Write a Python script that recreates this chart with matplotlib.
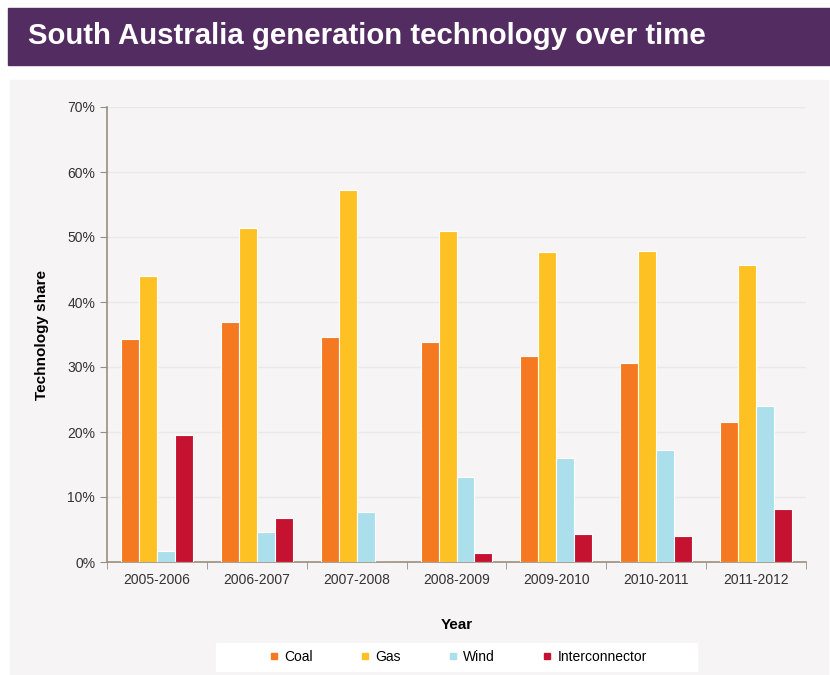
import matplotlib

matplotlib.use("Agg")
import matplotlib.pyplot as plt  # noqa: E402
import numpy as np  # noqa: E402
from matplotlib.patches import Rectangle  # noqa: E402
from matplotlib.lines import Line2D  # noqa: E402

plt.rcParams["font.family"] = ["Liberation Sans", "DejaVu Sans"]

years = ["2005-2006", "2006-2007", "2007-2008", "2008-2009",
         "2009-2010", "2010-2011", "2011-2012"]
coal = [34.3, 36.9, 34.6, 33.8, 31.7, 30.6, 21.5]
gas = [44.0, 51.4, 57.2, 50.9, 47.7, 47.8, 45.7]
wind = [1.7, 4.6, 7.7, 13.1, 16.0, 17.2, 24.0]
interconnector = [19.5, 6.8, 0.0, 1.4, 4.3, 4.0, 8.2]

series = [("Coal", coal, "#f47920"), ("Gas", gas, "#fec124"),
          ("Wind", wind, "#abdfec"), ("Interconnector", interconnector, "#c41230")]

fig = plt.figure(figsize=(8.3, 6.75), dpi=100)
fig.patch.set_facecolor("white")

# title banner, chart panel, legend box
fig.patches.append(Rectangle((8 / 830, 1 - 65 / 675), 1, 57 / 675,
                             transform=fig.transFigure, color="#532d62", zorder=-2))
fig.patches.append(Rectangle((10 / 830, 0), 818 / 830, 1 - 80 / 675,
                             transform=fig.transFigure, color="#f6f4f5", zorder=-2))
fig.patches.append(Rectangle((216 / 830, 4 / 675), 481 / 830, 28 / 675,
                             transform=fig.transFigure, color="white", zorder=-1))
fig.text(28 / 830, 1 - 36 / 675, "South Australia generation technology over time",
         color="white", fontsize=21.2, fontweight="bold", va="center", ha="left")

ax = fig.add_axes([107 / 830, 113 / 675, 699 / 830, 455 / 675])
ax.set_facecolor("#f6f4f5")

x = np.arange(len(years))
w = 0.18
for i, (name, vals, col) in enumerate(series):
    ax.bar(x + (i - 1.5) * w, vals, width=w, color=col, edgecolor="white",
           linewidth=0.8, zorder=3)

ax.set_xlim(-0.5, len(years) - 0.5)
ax.set_ylim(0, 70)
ax.set_yticks(range(0, 71, 10))
ax.set_yticklabels([f"{v}%" for v in range(0, 71, 10)])
ax.set_xticks(x)
ax.set_xticklabels(years)
ax.set_xticks(np.arange(-0.5, len(years)), minor=True)
ax.tick_params(axis="x", which="major", length=0, pad=8, labelsize=10, labelcolor="#333333")
ax.tick_params(axis="x", which="minor", length=5, color="#9a8f7e")
ax.tick_params(axis="y", length=5, color="#9a8f7e", labelsize=10, labelcolor="#333333")
ax.grid(axis="y", color="#ebe8e8", lw=1, zorder=0)
for s in ["top", "right"]:
    ax.spines[s].set_visible(False)
for s in ["left", "bottom"]:
    ax.spines[s].set_color("#9a8f7e")
    ax.spines[s].set_linewidth(1.2)

ax.set_ylabel("Technology share", fontsize=11, fontweight="bold", labelpad=13)
ax.set_xlabel("Year", fontsize=11, fontweight="bold", labelpad=22)

handles = [Line2D([], [], marker="s", ls="", color=c, markersize=5) for _, _, c in series]
fig.legend(handles, [s[0] for s in series], loc="center",
           bbox_to_anchor=(458 / 830, 1 - 657 / 675), ncol=4, frameon=False,
           fontsize=10, columnspacing=3.4, handlelength=0.7, handletextpad=0.4)

fig.savefig("out.png", dpi=100)
